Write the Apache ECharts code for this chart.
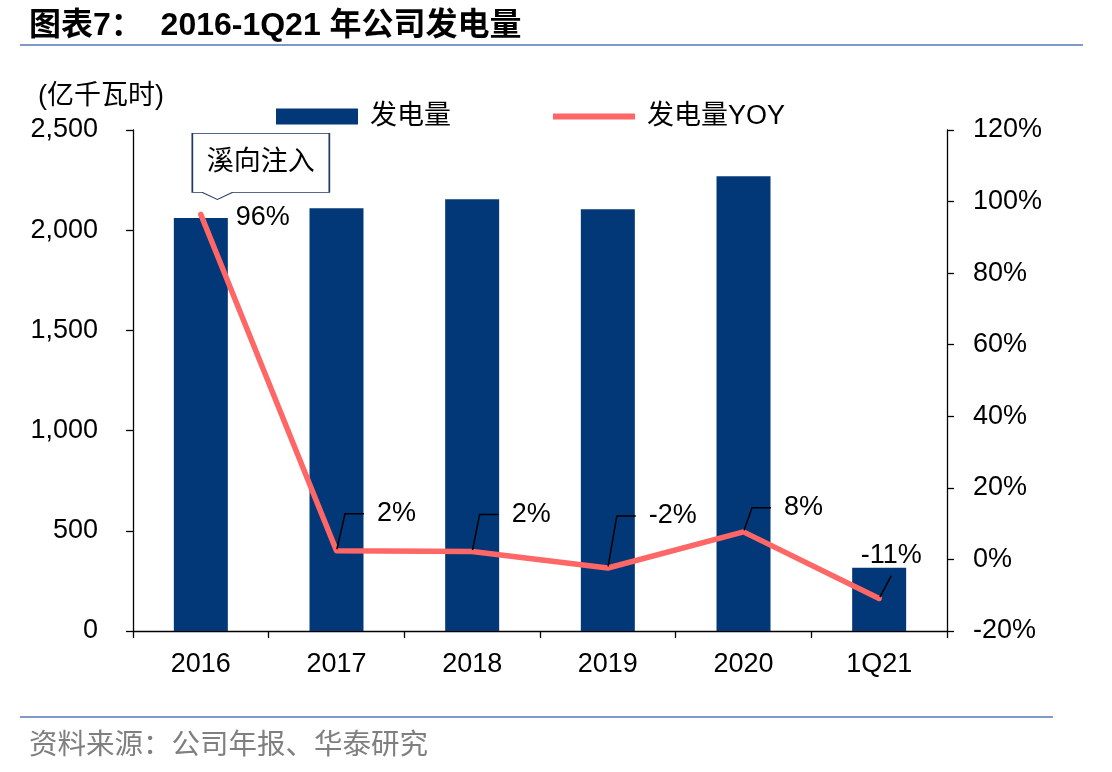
<!DOCTYPE html>
<html>
<head>
<meta charset="utf-8">
<script src="https://cdn.jsdelivr.net/npm/echarts@6/dist/echarts.min.js"></script>
<style>
  html, body { margin: 0; padding: 0; background: #fff; }
  #main { width: 1112px; height: 772px; }
</style>
</head>
<body>
<div id="main"></div>
<script>
var dom = document.getElementById("main");
var myChart = echarts.init(dom);

// data
const categories = ['2016', '2017', '2018', '2019', '2020', '1Q21'];
const generation = [2061, 2109, 2155, 2105, 2269, 315];   // 亿千瓦时
const yoy = [96.4, 2.4, 2.2, -2.4, 7.7, -10.9];            // %
const noteText = '溪向注入';

// where each yoy label sits relative to its point (text centre)
const labelShift = [[62, 3], [60, -37], [59, -37], [65, -52], [60, -24], [12, -50]];

const numFont = 'Liberation Sans, Arial, Noto Sans CJK SC';
const cjkFont = 'Liberation Sans, Noto Sans CJK SC';
const barColor = '#033878';
const lineColor = '#FF6666';

const last = yoy.length - 1;
const yoyData = yoy.map(function (v, i) {
  var item = { value: v };
  if (i === 0) item.labelLine = { show: false };
  if (i === last) {
    // label above the point, straight leader down to it
    item.label = { padding: [0, 0, 14, 0], backgroundColor: 'rgba(0,0,0,0)' };
    item.labelLine = { length2: 0 };
  }
  return item;
});

option = {
  animation: false,
  backgroundColor: '#fff',
  title: [
    {
      text: '图表7：  2016-1Q21 年公司发电量',
      left: 24, top: 5,
      textStyle: { fontSize: 32, fontWeight: 'bold', color: '#000', fontFamily: cjkFont }
    },
    {
      text: '(亿千瓦时)',
      left: 33, top: 78,
      textStyle: { fontSize: 27, fontWeight: 'normal', color: '#000', fontFamily: cjkFont }
    },
    {
      text: '资料来源：公司年报、华泰研究',
      left: 24, top: 727,
      textStyle: { fontSize: 28.5, fontWeight: 'normal', color: '#7f7f7f', fontFamily: cjkFont }
    }
  ],
  graphic: [
    { type: 'line', shape: { x1: 20, y1: 45, x2: 1083, y2: 45 }, style: { stroke: '#7E9BC8', lineWidth: 2 } },
    { type: 'line', shape: { x1: 20, y1: 717, x2: 1053, y2: 717 }, style: { stroke: '#7E9BC8', lineWidth: 2 } }
  ],
  legend: {
    left: 276, top: 103, padding: 0,
    itemWidth: 82, itemHeight: 16, itemGap: 102,
    textStyle: { fontSize: 27, color: '#000', fontFamily: cjkFont, padding: [0, 0, 0, 7] },
    data: [
      { name: '发电量', icon: 'rect' },
      { name: '发电量YOY', icon: 'path://M0,0 H84 V6 H0 Z' }
    ]
  },
  grid: { left: 133, right: 165, top: 130, bottom: 141 },
  xAxis: {
    type: 'category',
    data: categories,
    boundaryGap: true,
    axisLine: { lineStyle: { color: '#000', width: 1.3 } },
    axisTick: { show: true, length: 7, lineStyle: { color: '#000', width: 1.3 } },
    axisLabel: { margin: 20, fontSize: 27, color: '#000', fontFamily: numFont },
    splitLine: { show: false }
  },
  yAxis: [
    {
      type: 'value',
      min: 0, max: 2500, interval: 500,
      axisLine: { show: true, lineStyle: { color: '#000', width: 1.3 } },
      axisTick: { show: true, length: 7, lineStyle: { color: '#000', width: 1.3 } },
      axisLabel: {
        margin: 35, fontSize: 27, color: '#000', fontFamily: numFont,
        formatter: function (v) { return v.toLocaleString('en-US'); }
      },
      splitLine: { show: false }
    },
    {
      type: 'value',
      position: 'right',
      min: -20, max: 120, interval: 20,
      axisLine: { show: true, lineStyle: { color: '#000', width: 1.3 } },
      axisTick: { show: true, length: 7, lineStyle: { color: '#000', width: 1.3 } },
      axisLabel: { margin: 26, fontSize: 27, color: '#000', fontFamily: numFont, formatter: '{value}%' },
      splitLine: { show: false }
    }
  ],
  series: [
    {
      name: '发电量',
      type: 'bar',
      yAxisIndex: 0,
      barWidth: 54,
      itemStyle: { color: barColor },
      data: generation
    },
    {
      name: '发电量YOY',
      type: 'line',
      yAxisIndex: 1,
      z: 5,
      symbol: 'circle',
      symbolSize: 3,
      itemStyle: { color: lineColor },
      lineStyle: { color: lineColor, width: 5.5, cap: 'round', join: 'round' },
      label: {
        show: true,
        position: 'inside',
        padding: [0, 0, 0, 13],
        backgroundColor: 'rgba(0,0,0,0)',
        fontSize: 27, color: '#000', fontFamily: numFont,
        formatter: function (p) { return Math.round(p.value) + '%'; }
      },
      labelLine: { show: true, length2: 19, lineStyle: { color: '#000', width: 1.5 } },
      labelLayout: function (p) {
        var s = labelShift[p.dataIndex];
        if (p.dataIndex === last) return { dx: s[0], dy: s[1] + 7 };
        return { dx: s[0] - 6.5, dy: s[1] };
      },
      markPoint: {
        silent: true,
        symbol: 'path://M0,0 H137 V59 H40 L25,66 L10,59 H0 Z',
        symbolSize: [137, 66],
        symbolKeepAspect: false,
        symbolOffset: [60, -48],
        itemStyle: { color: '#fff', borderColor: '#1F3864', borderWidth: 1.2 },
        label: {
          show: true, position: 'inside', offset: [0, -4],
          formatter: noteText, fontSize: 27, color: '#000', fontFamily: cjkFont
        },
        data: [{ coord: [categories[0], yoy[0]] }]
      },
      data: yoyData
    }
  ]
};

if (option && typeof option === "object") {
  myChart.setOption(option, true);
}
</script>
</body>
</html>
